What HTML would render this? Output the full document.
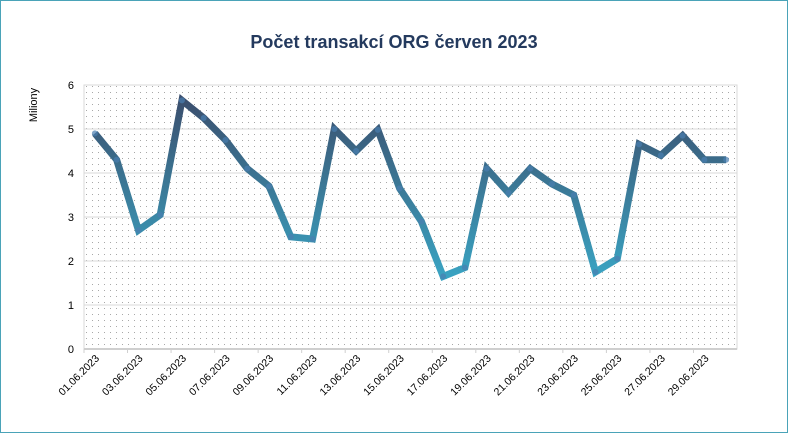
<!DOCTYPE html>
<html><head><meta charset="utf-8"><style>
body{margin:0;background:#fff;}
svg{display:block;font-family:"Liberation Sans",sans-serif;}
</style></head><body>
<svg width="788" height="433">
<defs>
<pattern id="dots" width="6" height="6" patternUnits="userSpaceOnUse"><rect x="2" y="2" width="1" height="1" fill="#a8a8a8"/></pattern>
<linearGradient id="lg" gradientUnits="userSpaceOnUse" x1="0" y1="100" x2="0" y2="280">
<stop offset="0" stop-color="#3b4f6e"/><stop offset="0.5" stop-color="#3b7a98"/><stop offset="1" stop-color="#3aa5c4"/></linearGradient>
</defs>
<rect x="0.5" y="0.5" width="787" height="432" fill="#fff" stroke="#4aa3b8"/>
<text x="394" y="48" text-anchor="middle" font-size="18" font-weight="bold" fill="#243a5e">Počet transakcí  ORG červen 2023</text>
<text transform="translate(37,105) rotate(-90)" text-anchor="middle" font-size="11" fill="#000">Miliony</text>
<rect x="84" y="85" width="653" height="264" fill="url(#dots)" stroke="#d8d8d8"/>
<g id="grid"></g><g id="yt"></g><g id="xt"></g><g id="series"></g>
</svg>
<script>
const dates=["01.06.2023","02.06.2023","03.06.2023","04.06.2023","05.06.2023","06.06.2023","07.06.2023","08.06.2023","09.06.2023","10.06.2023","11.06.2023","12.06.2023","13.06.2023","14.06.2023","15.06.2023","16.06.2023","17.06.2023","18.06.2023","19.06.2023","20.06.2023","21.06.2023","22.06.2023","23.06.2023","24.06.2023","25.06.2023","26.06.2023","27.06.2023","28.06.2023","29.06.2023","30.06.2023"];
const values=[4.9,4.3,2.7,3.05,5.65,5.25,4.75,4.1,3.7,2.55,2.5,5.0,4.5,4.98,3.65,2.9,1.65,1.85,4.1,3.55,4.1,3.75,3.5,1.75,2.05,4.65,4.4,4.85,4.3,4.3];
const yTicks=[0,1,2,3,4,5,6];
const NS="http://www.w3.org/2000/svg";
const L=84,R=737,T=85,B=349,ymax=6;
const cw=(R-L)/dates.length;
const xs=i=>L+cw*(i+0.5);
const ys=v=>B-(v/ymax)*(B-T);
function mk(t,a,p){const e=document.createElementNS(NS,t);for(const k in a)e.setAttribute(k,a[k]);p.appendChild(e);return e;}
const grid=document.getElementById('grid'),yt=document.getElementById('yt'),xt=document.getElementById('xt'),ser=document.getElementById('series');
yTicks.forEach(v=>{
 if(v>0&&v<ymax){const g=mk('line',{x1:L,x2:R,y1:ys(v),y2:ys(v),stroke:'#d9d9d9'},grid);
 
 }
 const t=mk('text',{x:L-10,y:ys(v)+4,'text-anchor':'end','font-size':'11'},yt);t.textContent=v;
 
 
});
const ax=mk('line',{x1:L,x2:R,y1:B,y2:B,stroke:'#cfcfcf','stroke-width':2},xt);


dates.forEach((d,i)=>{
 if(i%2===0){
  const tk=mk('line',{x1:L+cw*i,x2:L+cw*i,y1:B,y2:B+4,stroke:'#cfcfcf'},xt);
  
  
  const x=xs(i)+5,y=B+10;
  const t=mk('text',{x:x,y:y,'text-anchor':'end','font-size':'10.5',transform:`rotate(-45 ${x} ${y})`},xt);
  t.textContent=d;
  
  
 }
});
const pts=values.map((v,i)=>xs(i)+','+ys(v)).join(' ');
const pl=mk('polyline',{points:pts,fill:'none',stroke:'url(#lg)','stroke-width':7,'stroke-linejoin':'miter','stroke-linecap':'butt'},ser);


values.forEach((v,i)=>{
 const c=mk('circle',{cx:xs(i),cy:ys(v),r:3,fill:'#4a7fb0','fill-opacity':0.7},ser);
 
 
});
</script>
</body></html>
